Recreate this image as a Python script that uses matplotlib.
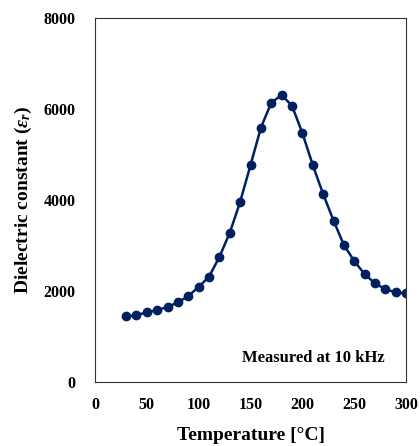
import matplotlib
matplotlib.use('Agg')
import matplotlib.pyplot as plt

plt.rcParams['font.family'] = 'Liberation Serif'
plt.rcParams['font.weight'] = 'bold'
plt.rcParams['mathtext.fontset'] = 'custom'
plt.rcParams['mathtext.rm'] = 'Liberation Serif:bold'
plt.rcParams['mathtext.it'] = 'Liberation Serif:italic:bold'

# data
temperature = [30, 40, 50, 60, 70, 80, 90, 100, 110, 120, 130, 140, 150, 160,
               170, 180, 190, 200, 210, 220, 230, 240, 250, 260, 270, 280, 290, 300]
eps_r = [1440, 1470, 1530, 1580, 1650, 1750, 1890, 2090, 2315, 2750, 3280, 3960, 4770, 5590,
         6140, 6310, 6070, 5470, 4770, 4130, 3550, 3010, 2660, 2370, 2170, 2040, 1970, 1950]
x_ticks = [0, 50, 100, 150, 200, 250, 300]
y_ticks = [0, 2000, 4000, 6000, 8000]

fig = plt.figure(figsize=(4.2, 4.46), dpi=100)
ax = fig.add_axes([0.226, 0.1435, 0.741, 0.816])

ax.plot(temperature, eps_r, color='#002060', lw=1.8, marker='o', markersize=6)

ax.set_xlim(0, 300)
ax.set_ylim(0, 8000)
ax.set_xticks(x_ticks)
ax.set_yticks(y_ticks)
ax.tick_params(axis='both', length=0, labelsize=11.5)
ax.tick_params(axis='x', pad=11)
ax.tick_params(axis='y', pad=14)
for s in ax.spines.values():
    s.set_linewidth(0.8)
    s.set_color('#333333')

ax.set_xlabel('Temperature [\u00b0C]', fontsize=14, fontweight='bold', labelpad=10)
ax.set_ylabel(r'Dielectric constant ($\varepsilon_r$)', fontsize=14, fontweight='bold', labelpad=7)
ax.text(0.93, 0.065, 'Measured at 10 kHz', transform=ax.transAxes, ha='right', va='center',
        fontsize=12, fontweight='bold')

fig.savefig('out.png', dpi=100)
